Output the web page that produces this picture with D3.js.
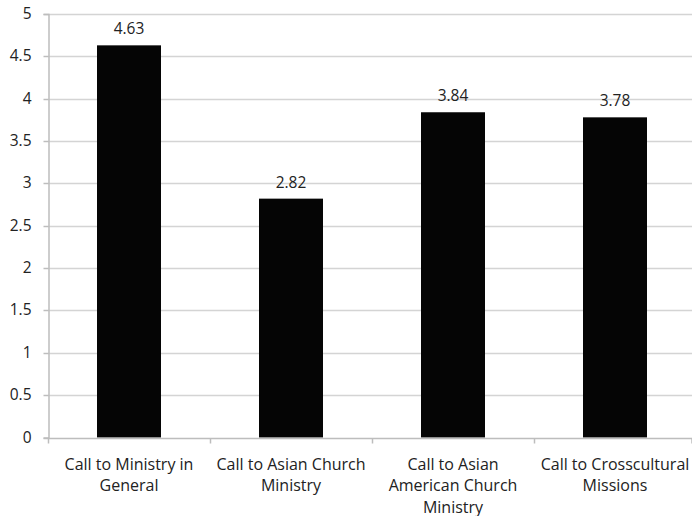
<!DOCTYPE html>
<html><head><meta charset="utf-8">
<script src="https://cdn.jsdelivr.net/npm/d3@7"></script>
<style>body{margin:0;background:#fff}svg{display:block}text{font-family:"Open Sans",sans-serif;fill:#222}</style>
</head><body>
<script>
const categories = [["Call to Ministry in","General"],["Call to Asian Church","Ministry"],["Call to Asian","American Church","Ministry"],["Call to Crosscultural","Missions"]];
const values = [4.63, 2.82, 3.84, 3.78];
const valueLabels = ["4.63","2.82","3.84","3.78"];
const yTicks = [0,0.5,1,1.5,2,2.5,3,3.5,4,4.5,5];
const yTickLabels = ["0","0.5","1","1.5","2","2.5","3","3.5","4","4.5","5"];

const W=692,H=516;
const FONT="'Open Sans',sans-serif";
const m={left:48,right:-4,top:14,bottom:78};
const svg=d3.select("body").append("svg").attr("width",W).attr("height",H);
const x=d3.scaleBand().domain(d3.range(values.length)).range([m.left,W-m.right]).paddingInner(0.605).paddingOuter(0.3025);
const xb=d3.scaleBand().domain(d3.range(values.length)).range([m.left,W-m.right]);
const y=d3.scaleLinear().domain([0,5]).range([H-m.bottom-0.5,m.top]);

// gridlines
svg.append("g").selectAll("line").data(yTicks.slice(1)).join("line")
  .attr("x1",m.left).attr("x2",W).attr("y1",d=>Math.round(y(d))+0.5).attr("y2",d=>Math.round(y(d))+0.5)
  .attr("stroke","#d4d4d4").attr("stroke-width",1.5);

// y axis
const ya=svg.append("g").attr("transform",`translate(${m.left+0.5},0)`)
  .call(d3.axisLeft(y).tickValues(yTicks).tickFormat((d,i)=>yTickLabels[i]).tickSize(5).tickPadding(12));
ya.select(".domain").attr("stroke","#bdbdbd").attr("stroke-width",1.5);
ya.selectAll(".tick line").attr("stroke","#bdbdbd").attr("stroke-width",1.5);
ya.selectAll(".tick text").attr("font-size",15.5).attr("font-family",FONT).attr("fill","#222");
ya.selectAll(".tick").attr("transform",d=>`translate(0,${Math.round(y(d))+0.5})`);

// bars
svg.append("g").selectAll("rect").data(values).join("rect")
  .attr("x",(d,i)=>x(i)).attr("width",x.bandwidth())
  .attr("y",d=>y(d)).attr("height",d=>y(0)-y(d)).attr("fill","#050505");

// x axis
const x0=Math.round(y(0))+0.5;
svg.append("line").attr("x1",m.left).attr("x2",W).attr("y1",x0).attr("y2",x0).attr("stroke","#bdbdbd").attr("stroke-width",1.5);
svg.append("g").selectAll("line").data(d3.range(values.length+1)).join("line")
  .attr("x1",i=>i<values.length?xb(i)+0.5:W).attr("x2",i=>i<values.length?xb(i)+0.5:W)
  .attr("y1",x0).attr("y2",x0+5).attr("stroke","#bdbdbd").attr("stroke-width",1.5);

// value labels
svg.append("g").selectAll("text").data(values).join("text")
  .attr("x",(d,i)=>x(i)+x.bandwidth()/2).attr("y",d=>y(d)-11)
  .attr("text-anchor","middle").attr("font-size",15.5).text((d,i)=>valueLabels[i]);

// category labels
const cg=svg.append("g").selectAll("text").data(categories).join("text")
  .attr("x",(d,i)=>xb(i)+xb.bandwidth()/2).attr("y",x0+31)
  .attr("text-anchor","middle").attr("font-size",16);
cg.selectAll("tspan").data((d,i)=>d.map(s=>({s,cx:xb(i)+xb.bandwidth()/2}))).join("tspan")
  .attr("x",d=>d.cx).attr("dy",(d,j)=>j===0?0:21.5).text(d=>d.s);
</script>
</body></html>
